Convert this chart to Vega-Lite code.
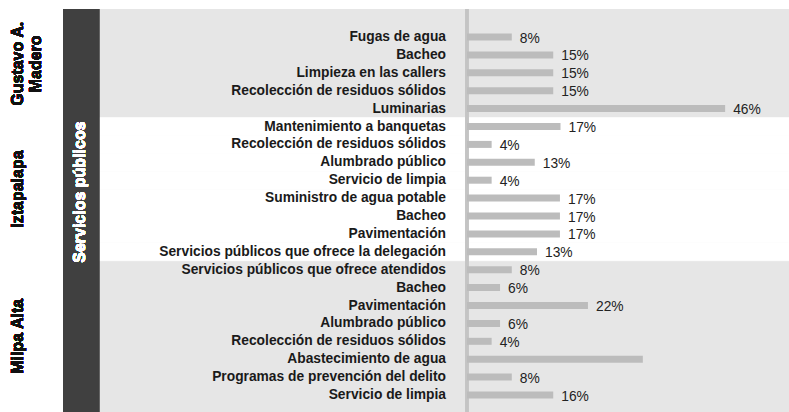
{
  "$schema": "https://vega.github.io/schema/vega-lite/v6.json",
  "autosize": {"type": "none"},
  "width": 726,
  "height": 403,
  "padding": {"left": 63, "top": 9, "right": 0, "bottom": 0},
  "background": "white",
  "config": {"view": {"stroke": null, "fill": "#e6e6e6"}, "font": "Liberation Sans"},
  "data": {
    "values": [
      {"fila": "G1", "grupo": "Gustavo A. Madero", "servicio": "Fugas de agua", "valor": 8.0, "etiqueta": "8%"},
      {"fila": "G2", "grupo": "Gustavo A. Madero", "servicio": "Bacheo", "valor": 15.4, "etiqueta": "15%"},
      {"fila": "G3", "grupo": "Gustavo A. Madero", "servicio": "Limpieza en las callers", "valor": 15.4, "etiqueta": "15%"},
      {"fila": "G4", "grupo": "Gustavo A. Madero", "servicio": "Recolección de residuos sólidos", "valor": 15.4, "etiqueta": "15%"},
      {"fila": "G5", "grupo": "Gustavo A. Madero", "servicio": "Luminarias", "valor": 46.1, "etiqueta": "46%"},
      {"fila": "I1", "grupo": "Iztapalapa", "servicio": "Mantenimiento a banquetas", "valor": 16.7, "etiqueta": "17%"},
      {"fila": "I2", "grupo": "Iztapalapa", "servicio": "Recolección de residuos sólidos", "valor": 4.4, "etiqueta": "4%"},
      {"fila": "I3", "grupo": "Iztapalapa", "servicio": "Alumbrado público", "valor": 12.1, "etiqueta": "13%"},
      {"fila": "I4", "grupo": "Iztapalapa", "servicio": "Servicio de limpia", "valor": 4.4, "etiqueta": "4%"},
      {"fila": "I5", "grupo": "Iztapalapa", "servicio": "Suministro de agua potable", "valor": 16.6, "etiqueta": "17%"},
      {"fila": "I6", "grupo": "Iztapalapa", "servicio": "Bacheo", "valor": 16.6, "etiqueta": "17%"},
      {"fila": "I7", "grupo": "Iztapalapa", "servicio": "Pavimentación", "valor": 16.6, "etiqueta": "17%"},
      {"fila": "I8", "grupo": "Iztapalapa", "servicio": "Servicios públicos que ofrece la delegación", "valor": 12.5, "etiqueta": "13%"},
      {"fila": "M1", "grupo": "Milpa Alta", "servicio": "Servicios públicos que ofrece atendidos", "valor": 8.0, "etiqueta": "8%"},
      {"fila": "M2", "grupo": "Milpa Alta", "servicio": "Bacheo", "valor": 5.9, "etiqueta": "6%"},
      {"fila": "M3", "grupo": "Milpa Alta", "servicio": "Pavimentación", "valor": 21.6, "etiqueta": "22%"},
      {"fila": "M4", "grupo": "Milpa Alta", "servicio": "Alumbrado público", "valor": 5.9, "etiqueta": "6%"},
      {"fila": "M5", "grupo": "Milpa Alta", "servicio": "Recolección de residuos sólidos", "valor": 4.4, "etiqueta": "4%"},
      {"fila": "M6", "grupo": "Milpa Alta", "servicio": "Abastecimiento de agua", "valor": 31.4, "etiqueta": ""},
      {"fila": "M7", "grupo": "Milpa Alta", "servicio": "Programas de prevención del delito", "valor": 8.0, "etiqueta": "8%"},
      {"fila": "M8", "grupo": "Milpa Alta", "servicio": "Servicio de limpia", "valor": 15.4, "etiqueta": "16%"}
    ]
  },
  "layer": [
    {
      "transform": [{"filter": "datum.grupo === 'Iztapalapa'"}],
      "mark": {"type": "bar", "color": "white", "stroke": "white", "strokeWidth": 0.6},
      "encoding": {
        "y": {"field": "fila", "type": "nominal", "sort": null, "axis": null, "scale": {"domain": ["G1","G2","G3","G4","G5","I1","I2","I3","I4","I5","I6","I7","I8","M1","M2","M3","M4","M5","M6","M7","M8"], "paddingInner": 0, "paddingOuter": 0.757, "align": 0.703}},
        "x": {"datum": -65.7, "type": "quantitative", "axis": null, "scale": {"domain": [-72.14, 57.5], "zero": false, "nice": false}},
        "x2": {"datum": 57.5}
      }
    },
    {
      "mark": {"type": "rect", "color": "#404040"},
      "encoding": {
        "x": {"datum": -72.14, "type": "quantitative", "axis": null, "scale": {"domain": [-72.14, 57.5], "zero": false, "nice": false}},
        "x2": {"datum": -65.7}
      }
    },
    {
      "mark": {"type": "rule", "color": "#c4c4c4", "strokeWidth": 2.5},
      "encoding": {
        "x": {"datum": 0, "type": "quantitative", "axis": null, "scale": {"domain": [-72.14, 57.5], "zero": false, "nice": false}}
      }
    },
    {
      "mark": {"type": "bar", "color": "#bcbcbc", "size": 7},
      "encoding": {
        "y": {"field": "fila", "type": "nominal", "sort": null, "axis": null},
        "x": {"field": "valor", "type": "quantitative", "axis": null, "scale": {"domain": [-72.14, 57.5], "zero": false, "nice": false}},
        "x2": {"datum": 0}
      }
    },
    {
      "mark": {"type": "text", "align": "left", "baseline": "middle", "dx": 8, "dy": 1.5, "fontSize": 13.8, "color": "#222222"},
      "encoding": {
        "y": {"field": "fila", "type": "nominal", "sort": null, "axis": null},
        "x": {"field": "valor", "type": "quantitative", "axis": null, "scale": {"domain": [-72.14, 57.5], "zero": false, "nice": false}},
        "text": {"field": "etiqueta"}
      }
    },
    {
      "mark": {"type": "text", "align": "right", "baseline": "middle", "dx": -21, "fontSize": 13.8, "fontWeight": "bold", "color": "#1a1a1a"},
      "encoding": {
        "y": {"field": "fila", "type": "nominal", "sort": null, "axis": null},
        "x": {"datum": 0, "type": "quantitative", "axis": null, "scale": {"domain": [-72.14, 57.5], "zero": false, "nice": false}},
        "text": {"field": "servicio"}
      }
    },
    {
      "mark": {"type": "text", "angle": 270, "align": "center", "baseline": "alphabetic", "dx": 9, "fontSize": 16, "lineHeight": 18, "fontWeight": "bold", "color": "#111111"},
      "encoding": {
        "y": {"datum": "G3", "type": "nominal"},
        "x": {"datum": -79.3, "type": "quantitative"},
        "text": {"value": ["Gustavo A.", "Madero"]}
      }
    },
    {
      "mark": {"type": "text", "angle": 270, "align": "center", "baseline": "alphabetic", "dx": 9, "fontSize": 16, "fontWeight": "bold", "color": "#111111"},
      "encoding": {
        "y": {"datum": "I5", "type": "nominal"},
        "x": {"datum": -79.3, "type": "quantitative"},
        "text": {"value": "Iztapalapa"}
      }
    },
    {
      "mark": {"type": "text", "angle": 270, "align": "center", "baseline": "alphabetic", "dx": 5, "fontSize": 16, "fontWeight": "bold", "color": "#111111"},
      "encoding": {
        "y": {"datum": "M5", "type": "nominal"},
        "x": {"datum": -79.3, "type": "quantitative"},
        "text": {"value": "Milpa Alta"}
      }
    },
    {
      "mark": {"type": "text", "angle": 270, "align": "center", "baseline": "middle", "dx": 6, "fontSize": 16, "fontWeight": "bold", "color": "white"},
      "encoding": {
        "y": {"datum": "I5", "type": "nominal"},
        "x": {"datum": -69.1, "type": "quantitative"},
        "text": {"value": "Servicios públicos"}
      }
    }
  ]
}
